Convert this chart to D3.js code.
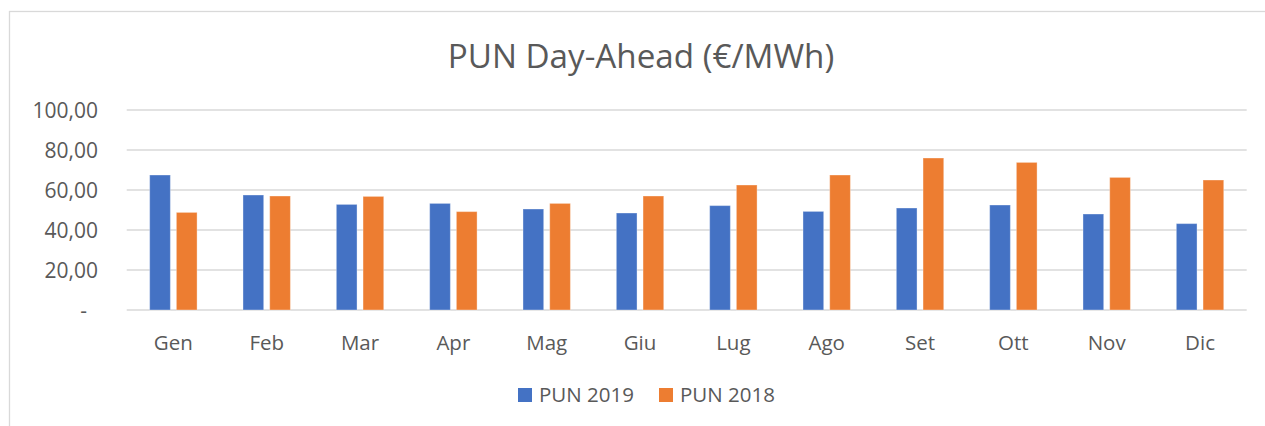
<!DOCTYPE html>
<html>
<head>
<meta charset="utf-8">
<script src="https://cdn.jsdelivr.net/npm/d3@7"></script>
<style>
  body { margin: 0; background: #fff; }
  svg text { font-family: "Open Sans", sans-serif; fill: #595959; }
</style>
</head>
<body>
<div id="chart"></div>
<script>
const months = ["Gen", "Feb", "Mar", "Apr", "Mag", "Giu", "Lug", "Ago", "Set", "Ott", "Nov", "Dic"];
const pun2019 = [67.5, 57.5, 52.8, 53.3, 50.5, 48.5, 52.2, 49.3, 51.0, 52.5, 48.0, 43.2];
const pun2018 = [48.8, 57.0, 56.8, 49.2, 53.3, 57.0, 62.5, 67.5, 76.0, 73.8, 66.3, 65.0];
const seriesNames = ["PUN 2019", "PUN 2018"];
const yTicks = [0, 20, 40, 60, 80, 100];

const width = 1265;
const height = 426;
const colors = ["#4472C4", "#ED7D31"];

const svg = d3.select("#chart").append("svg")
  .attr("width", width)
  .attr("height", height);

// chart frame (left and top edges visible)
svg.append("rect")
  .attr("x", 9.5).attr("y", 11.5)
  .attr("width", width).attr("height", height)
  .attr("fill", "none")
  .attr("stroke", "#d9d9d9")
  .attr("stroke-width", 1.3);

svg.append("text")
  .attr("x", 641).attr("y", 68)
  .attr("text-anchor", "middle")
  .style("font-size", "33.2px")
  .text("PUN Day-Ahead (€/MWh)");

const plotLeft = 126.7, plotRight = 1246.7;
const y = d3.scaleLinear().domain([0, 100]).range([310, 110]);
const x0 = d3.scaleBand().domain(months).range([plotLeft, plotRight])
  .paddingInner(0.492).paddingOuter(0.246);
const x1 = d3.scaleBand().domain(seriesNames).range([0, x0.bandwidth()])
  .paddingInner(0.225);

const fmt = v => v === 0 ? "-" : d3.format(".2f")(v).replace(".", ",");

// gridlines
svg.append("g").selectAll("line")
  .data(yTicks)
  .join("line")
  .attr("x1", plotLeft).attr("x2", plotRight)
  .attr("y1", d => y(d)).attr("y2", d => y(d))
  .attr("stroke", "#d9d9d9")
  .attr("stroke-width", 1.3);

// y labels
svg.append("g").selectAll("text")
  .data(yTicks)
  .join("text")
  .attr("x", d => d === 0 ? 87 : 98)
  .attr("y", d => y(d))
  .attr("dy", "0.36em")
  .attr("text-anchor", "end")
  .style("font-size", "21px")
  .text(fmt);

// bars
const rows = months.map((m, i) => ({ month: m, values: [pun2019[i], pun2018[i]] }));
svg.append("g").selectAll("g")
  .data(rows)
  .join("g")
  .attr("transform", d => `translate(${x0(d.month)},0)`)
  .selectAll("rect")
  .data(d => d.values.map((v, j) => ({ key: seriesNames[j], value: v, j })))
  .join("rect")
  .attr("x", d => x1(d.key))
  .attr("y", d => y(d.value))
  .attr("width", x1.bandwidth())
  .attr("height", d => y(0) - y(d.value))
  .attr("fill", d => colors[d.j])
  .attr("stroke", "#fff")
  .attr("stroke-opacity", 0.35)
  .attr("stroke-width", 1);

// x labels
svg.append("g").selectAll("text")
  .data(months)
  .join("text")
  .attr("x", d => x0(d) + x0.bandwidth() / 2)
  .attr("y", 350)
  .attr("text-anchor", "middle")
  .style("font-size", "20.5px")
  .text(d => d);

// legend
const legendX = [518, 659];
const legend = svg.append("g").selectAll("g")
  .data(seriesNames)
  .join("g")
  .attr("transform", (d, i) => `translate(${legendX[i]},388)`);
legend.append("rect")
  .attr("width", 14).attr("height", 14)
  .attr("fill", (d, i) => colors[i]);
legend.append("text")
  .attr("x", 21).attr("y", 14)
  .style("font-size", "20.5px")
  .text(d => d);
</script>
</body>
</html>
